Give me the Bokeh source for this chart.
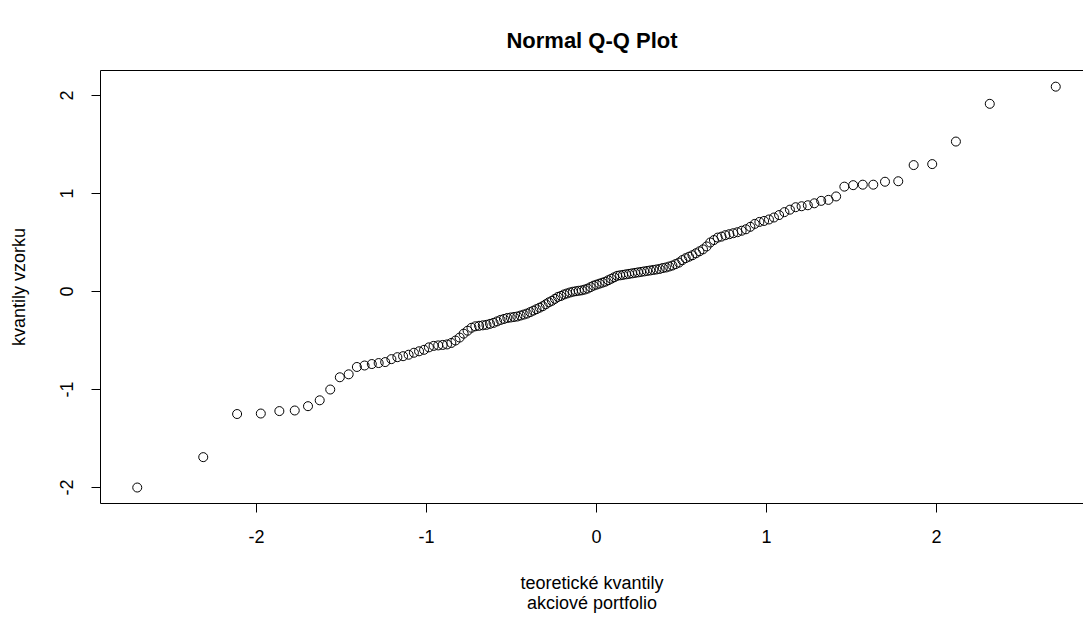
import math
from bokeh.plotting import figure
from bokeh.models import Range1d, LinearAxis, FixedTicker
from bokeh.embed import file_html
from bokeh.resources import INLINE

# ---------------- data ----------------
title_text = "Normal Q-Q Plot"
x_label_lines = ["teoretické kvantily", "akciové portfolio"]
y_label_text = "kvantily vzorku"
x_ticks = [-2, -1, 0, 1, 2]
y_ticks = [-2, -1, 0, 1, 2]

# sorted sample quantiles
sample_q = [
    -2.00, -1.69, -1.25, -1.245, -1.22, -1.214, -1.17, -1.11, -1.00, -0.875,
    -0.845, -0.77, -0.755, -0.74, -0.73, -0.72, -0.69, -0.67, -0.66, -0.645,
    -0.625, -0.61, -0.595, -0.57, -0.555, -0.55, -0.545, -0.54, -0.525, -0.50,
    -0.47, -0.43, -0.40, -0.37, -0.355, -0.35, -0.345, -0.34, -0.33, -0.32,
    -0.305, -0.29, -0.28, -0.27, -0.265, -0.26, -0.255, -0.245, -0.235, -0.225,
    -0.21, -0.195, -0.18, -0.165, -0.15, -0.13, -0.11, -0.095, -0.075, -0.055,
    -0.045, -0.03, -0.02, -0.01, -0.002, 0.003, 0.008, 0.012, 0.02, 0.03,
    0.045, 0.06, 0.07, 0.08, 0.09, 0.10, 0.115, 0.13, 0.145, 0.16,
    0.165, 0.17, 0.175, 0.18, 0.185, 0.19, 0.195, 0.20, 0.205, 0.21,
    0.215, 0.22, 0.225, 0.23, 0.24, 0.245, 0.255, 0.265, 0.28, 0.295,
    0.32, 0.34, 0.355, 0.37, 0.39, 0.41, 0.43, 0.46, 0.50, 0.525,
    0.55, 0.56, 0.575, 0.585, 0.595, 0.605, 0.62, 0.635, 0.66, 0.69,
    0.71, 0.72, 0.735, 0.755, 0.78, 0.81, 0.835, 0.86, 0.87, 0.88,
    0.90, 0.925, 0.935, 0.97, 1.07, 1.085, 1.09, 1.09, 1.12, 1.125,
    1.29, 1.30, 1.53, 1.915, 2.09,
]


def qnorm(p):
    lo, hi = -10.0, 10.0
    for _ in range(80):
        mid = 0.5 * (lo + hi)
        if 0.5 * (1.0 + math.erf(mid / math.sqrt(2.0))) < p:
            lo = mid
        else:
            hi = mid
    return 0.5 * (lo + hi)


# theoretical normal quantiles as in R's qqnorm (ppoints, a = 0.5)
n = len(sample_q)
theo_q = [qnorm((i + 0.5) / n) for i in range(n)]

# ---------------- figure ----------------
FONT = "Liberation Sans"
x0, x1 = -2.918, 2.865
y0, y1 = -2.163, 2.255

p = figure(width=1083, height=617, output_backend="svg", toolbar_location=None,
           x_range=Range1d(x0, x1), y_range=Range1d(y0, y1),
           min_border_left=100, min_border_right=0, min_border_top=70,
           min_border_bottom=114, background_fill_color="white",
           border_fill_color="white")
p.outline_line_color = None
p.xgrid.visible = False
p.ygrid.visible = False

for ax in (p.xaxis[0], p.yaxis[0]):
    ax.axis_line_color = "black"
    ax.axis_line_width = 1
    ax.major_tick_line_color = "black"
    ax.major_tick_out = 9
    ax.major_tick_in = 0
    ax.minor_tick_out = 0
    ax.minor_tick_in = 0
    ax.major_label_text_font = FONT
    ax.major_label_text_font_size = "18px"
    ax.major_label_text_color = "black"
    ax.axis_label_text_font = FONT
    ax.axis_label_text_font_size = "18px"
    ax.axis_label_text_font_style = "normal"
    ax.axis_label_text_color = "black"

p.xaxis.ticker = FixedTicker(ticks=x_ticks)
p.yaxis.ticker = FixedTicker(ticks=y_ticks)
p.xaxis.major_label_overrides = {t: str(t) for t in x_ticks}
p.yaxis.major_label_overrides = {t: str(t) for t in y_ticks}
p.xaxis.major_label_standoff = 17
p.yaxis.major_label_standoff = 18
p.yaxis.major_label_orientation = "vertical"

p.xaxis.axis_label = "\n".join(x_label_lines)
p.xaxis.axis_label_standoff = 27
p.xaxis.axis_label_text_line_height = 1.0
p.yaxis.axis_label = y_label_text
p.yaxis.axis_label_standoff = 29

top = LinearAxis(ticker=FixedTicker(ticks=[]), major_tick_out=0, major_tick_in=0,
                 minor_tick_out=0, minor_tick_in=0, axis_line_color="black",
                 major_label_text_font_size="0px")
p.add_layout(top, "above")

p.title.text = title_text
p.title.align = "center"
p.title.text_font = FONT
p.title.text_font_size = "22px"
p.title.text_font_style = "bold"
p.title.text_color = "black"
p.title.standoff = 36

p.scatter(theo_q, sample_q, marker="circle", size=9, fill_color=None,
          line_color="black", line_width=1)

open("out.html", "w").write(file_html(p, INLINE))
